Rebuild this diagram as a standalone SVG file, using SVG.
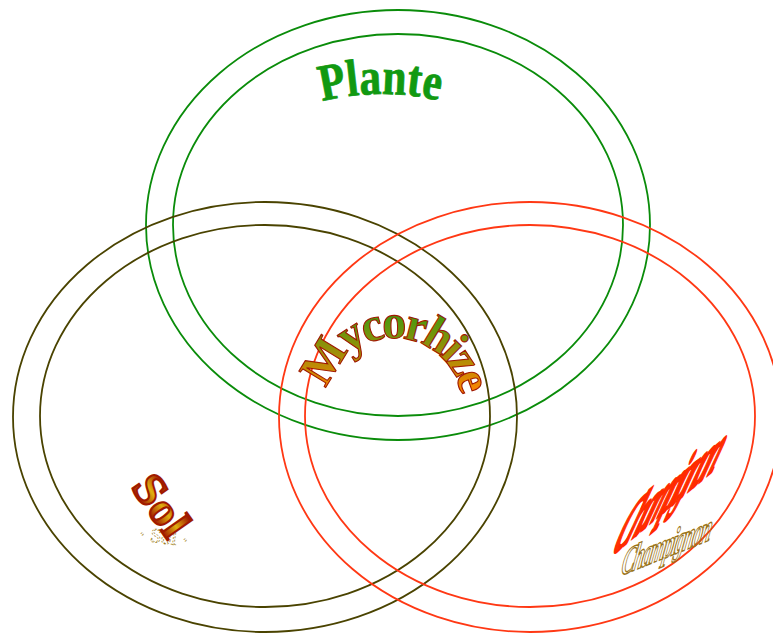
<svg xmlns="http://www.w3.org/2000/svg" width="773" height="635" viewBox="0 0 773 635">
<style>
.ring{fill:none;stroke-width:1.8}
.g{stroke:#0a8c0a}
.o{stroke:#4a4300}
.r{stroke:#ff3814}
.lbl{font-family:"Liberation Serif","DejaVu Serif",serif;font-weight:bold}
</style>
<defs>
<linearGradient id="myco" gradientUnits="userSpaceOnUse" x1="0" y1="312" x2="0" y2="392">
<stop offset="0" stop-color="#3c9a10"/>
<stop offset="1" stop-color="#ff8400"/>
</linearGradient>
<linearGradient id="solg" gradientUnits="userSpaceOnUse" x1="0" y1="-30" x2="0" y2="0">
<stop offset="0" stop-color="#a01a00"/>
<stop offset="0.5" stop-color="#e0b010"/>
<stop offset="1" stop-color="#a01a00"/>
</linearGradient>
<path id="arcPlante" d="M322,101.3 A250,250 0 0 1 442,101.3"/>
<path id="arcMyco" d="M328,389.5 A68,68 0 0 1 460.5,391.9"/>
</defs>
<g id="plante">
<ellipse class="ring g" cx="398" cy="225" rx="252" ry="215"/>
<ellipse class="ring g" cx="398" cy="225" rx="225" ry="191"/>
<text class="lbl" font-size="52" fill="#119911" stroke="#119911" stroke-width="0.8"><textPath href="#arcPlante" textLength="118" lengthAdjust="spacingAndGlyphs">Plante</textPath></text>
</g>
<g id="sol">
<ellipse class="ring o" cx="265" cy="417" rx="252" ry="215"/>
<ellipse class="ring o" cx="265" cy="416" rx="225" ry="191"/>
<text font-family="Liberation Serif, serif" font-size="20" fill="none" stroke="#a08020" stroke-width="0.7" stroke-dasharray="2 1.5" transform="translate(138,540) rotate(8)">· Sol ·</text>
<text class="lbl" font-size="46" fill="url(#solg)" stroke="#a01a00" stroke-width="2" textLength="66" lengthAdjust="spacingAndGlyphs" transform="translate(130,487) rotate(55)">Sol</text>
</g>
<g id="champignon">
<ellipse class="ring r" cx="530" cy="417" rx="251" ry="215"/>
<ellipse class="ring r" cx="530" cy="416" rx="225" ry="191"/>
<text font-family="Liberation Serif, serif" font-style="italic" font-weight="bold" font-size="40" letter-spacing="-4" fill="none" stroke="#9a7418" stroke-width="1.2" vector-effect="non-scaling-stroke" transform="matrix(0.5,-0.2,-0.2,1.0,620,576)">Champignon</text>
<text font-family="Liberation Serif, serif" font-style="italic" font-weight="bold" font-size="40" letter-spacing="-7" fill="#ff3300" stroke="#ff2a00" stroke-width="3.5" stroke-linejoin="round" vector-effect="non-scaling-stroke" transform="matrix(0.68,-0.57,-0.8,1.9,610,557)">Champignon</text>
</g>
<g id="mycorhize">
<text class="lbl" font-size="48" letter-spacing="-4" fill="url(#myco)" stroke="#a01800" stroke-width="1.1"><textPath href="#arcMyco">Mycorhize</textPath></text>
</g>
</svg>
